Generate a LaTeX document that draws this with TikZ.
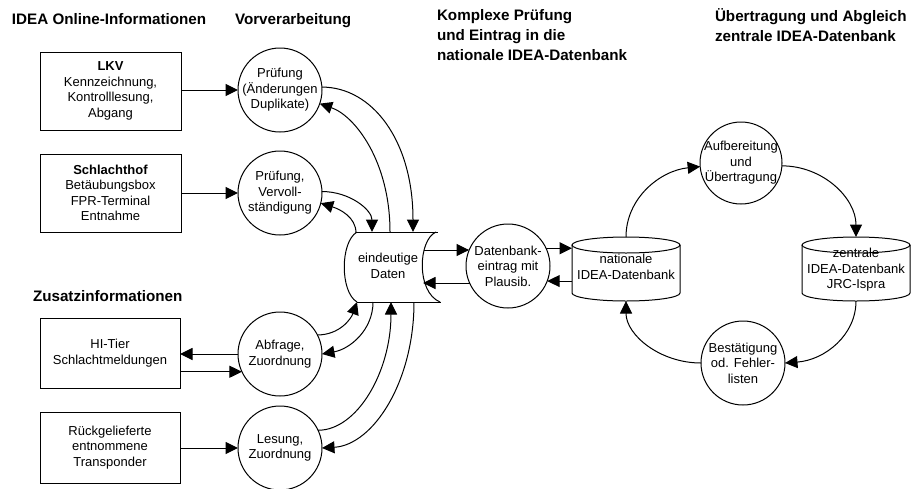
\documentclass[tikz,border=0pt]{standalone}
\usepackage{fontspec}
\setmainfont{Liberation Sans}
\usetikzlibrary{arrows.meta}
\begin{document}
\begin{tikzpicture}[x=1pt,y=-1pt,
  every node/.style={inner sep=0pt, outer sep=0pt},
  body/.style={font=\fontsize{13}{15.5}\selectfont, align=center},
  head/.style={font=\fontsize{15.2}{20}\selectfont\bfseries, anchor=base west},
  srcbox/.style={draw, line width=1pt, rectangle, minimum width=141pt, minimum height=78pt, body},
  proc/.style={draw, line width=1pt, circle, minimum size=84pt},
  flow/.style={line width=1pt, -{Triangle[length=12.5pt,width=12pt]}},
  outline/.style={line width=1pt}
]
\useasboundingbox (0,0) rectangle (912,488);

% headings
\node[head] (h1) at (12,24) {IDEA Online-Informationen};
\node[head] (h2) at (235,24) {Vorverarbeitung};
\node[head] (h3a) at (437,20) {Komplexe Prüfung};
\node[head] (h3b) at (437,40) {und Eintrag in die};
\node[head] (h3c) at (437,60) {nationale IDEA-Datenbank};
\node[head] (h4a) at (715,21) {Übertragung und Abgleich};
\node[head] (h4b) at (715,41) {zentrale IDEA-Datenbank};
\node[head] (h5) at (33,301) {Zusatzinformationen};

% source boxes
\node[srcbox] (b1) at (110.5,91) {\textbf{LKV}\\Kennzeichnung,\\Kontrolllesung,\\Abgang};
\node[srcbox] (b2) at (110.5,193) {\textbf{Schlachthof}\\Betäubungsbox\\FPR-Terminal\\Entnahme};
\node[srcbox, minimum width=140pt, minimum height=70pt] (b3) at (110,353) {HI-Tier\\Schlachtmeldungen};
\node[srcbox, minimum width=140pt, minimum height=71pt] (b4) at (110,447.5) {Rückgelieferte\\entnommene\\Transponder};

% process circles
\node[proc] (c1) at (280,90) {};
\node[body] (t1) at (c1) {Prüfung\\(Änderungen\\Duplikate)};
\node[proc] (c2) at (280,193) {};
\node[body] (t2) at (c2) {Prüfung,\\Vervoll-\\ständigung};
\node[proc] (c3) at (280,354) {};
\node[body] (t3) at (c3) {Abfrage,\\Zuordnung};
\node[proc] (c4) at (280,448) {};
\node[body] (t4) at (c4) {Lesung,\\Zuordnung};
\node[proc] (db) at (508,266) {};
\node[body] (tdb) at (db) {Datenbank-\\eintrag mit\\Plausib.};
\node[proc, minimum size=82pt] (c5) at (741,163) {};
\node[body] (t5) at (c5) {Aufbereitung\\und\\Übertragung};
\node[proc] (c6) at (743,363) {};
\node[body] (t6) at (c6) {Bestätigung\\od. Fehler-\\listen};

% eindeutige Daten (horizontal store)
\draw[outline] (357,232) -- (438,232);
\draw[outline] (357,302) -- (441,302);
\draw[outline] (357,232) .. controls (340,242) and (340,292) .. (357,302);
\draw[outline] (436,232) .. controls (418,240) and (416,292) .. (440,302);
\node[body] (ed) at (388,266) {eindeutige\\Daten};

% nationale IDEA-Datenbank cylinder
\draw[outline] (626,245) ellipse [x radius=54pt, y radius=8pt];
\draw[outline] (572,245) -- (572,293) arc[start angle=180, end angle=360, x radius=54pt, y radius=8pt] -- (680,245);
\node[body] (natdb) at (626,267) {nationale\\IDEA-Datenbank};

% zentrale IDEA-Datenbank cylinder
\draw[outline] (856,245) ellipse [x radius=54pt, y radius=8pt];
\draw[outline] (802,245) -- (802,293) arc[start angle=180, end angle=360, x radius=54pt, y radius=8pt] -- (910,245);
\node[body] (zdb) at (856,270) {zentrale\\IDEA-Datenbank\\JRC-Ispra};

% attachment points
\coordinate (edT1) at (356,233);
\coordinate (edT2) at (372,232);
\coordinate (edT3) at (390,232);
\coordinate (edT4) at (413,232);
\coordinate (edB1) at (357,302);
\coordinate (edB2) at (373,302);
\coordinate (edB3) at (391,302);
\coordinate (edB4) at (414,302);
\coordinate (edR1) at (424,250);
\coordinate (edR2) at (423,283);
\coordinate (natL) at (572,266);
\coordinate (natT) at (626,237);
\coordinate (natB) at (626,301);
\coordinate (zT) at (856,237);
\coordinate (zB) at (856,301);

% box -> circle arrows
\draw[flow] (b1.east |- c1.west) -- (c1.west);
\draw[flow] (b2.east |- c2.west) -- (c2.west);
\draw[flow] (c3.west) -- (b3.east |- c3.west);
\draw[flow] (b3.east |- c3.205) -- (c3.205);
\draw[flow] (b4.east |- c4.west) -- (c4.west);

% circles <-> eindeutige Daten
\draw[flow] (c1.4) .. controls +(50,0) and +(0,-92) .. (edT4);
\draw[flow] (edT3) .. controls +(0,-71) and +(35,12) .. (c1.-19);
\draw[flow] (c2.2) .. controls +(28,0) and +(0,-22) .. (edT2);
\draw[flow] (edT1) .. controls +(0,-16) and +(19,6) .. (c2.-14);
\draw[flow] (c3.27) .. controls +(22,0) and +(-6,17) .. (edB1);
\draw[flow] (edB2) .. controls +(0,28) and +(28,-5) .. (c3.0);
\draw[flow] (c4.25) .. controls +(39,0) and +(0,70) .. (edB3);
\draw[flow] (edB4) .. controls +(0,80) and +(51,-3) .. (c4.0);

% eindeutige Daten <-> Datenbankeintrag <-> nationale DB
\draw[flow] (edR1) -- (edR1 -| db.158);
\draw[flow] (edR2 -| db.204) -- (edR2);
\draw[flow] (db.25) -- (db.25 -| natL);
\draw[flow] (natL |- db.-21) -- (db.-21);

% right cycle
\draw[flow] (natT) .. controls +(0,-39) and +(-40,4) .. (c5.185);
\draw[flow] (c5.-4) .. controls +(41,0) and +(0,-39) .. (zT);
\draw[flow] (zB) .. controls +(0,34) and +(40,-3) .. (c6.0);
\draw[flow] (c6.180) .. controls +(-41,0) and +(0,34) .. (natB);
\end{tikzpicture}
\end{document}
